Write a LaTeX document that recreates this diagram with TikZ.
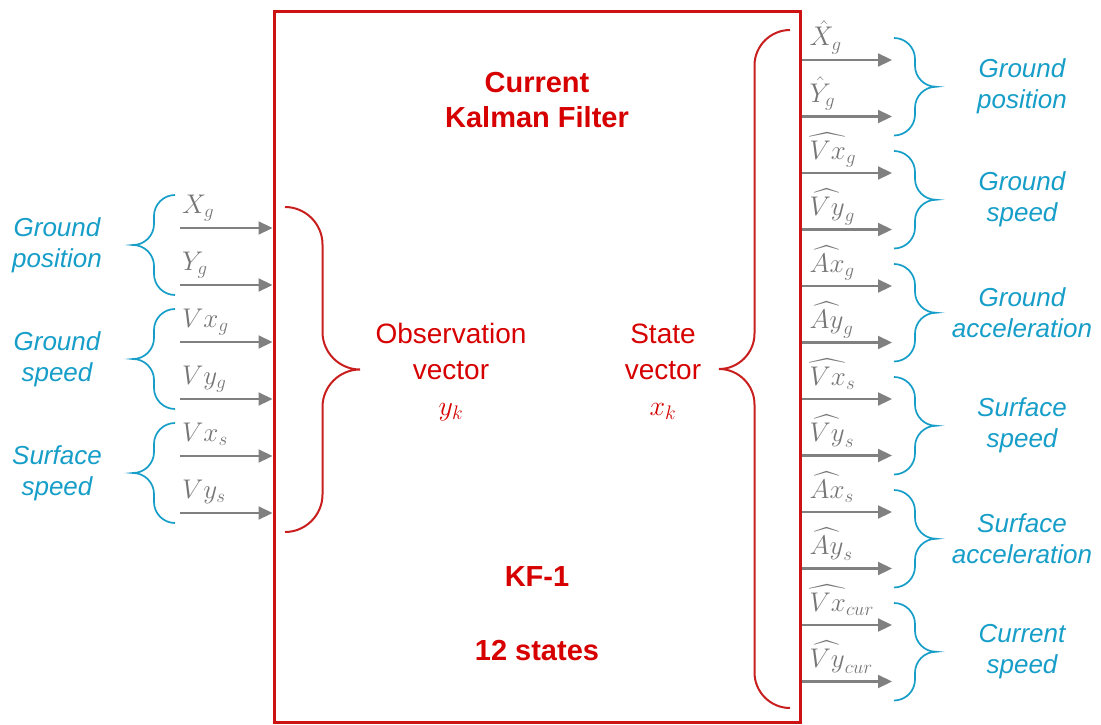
\documentclass[tikz,border=0pt]{standalone}
\usepackage{fix-cm}
\usepackage{amsmath}
\usepackage{fontspec}
\setsansfont{Liberation Sans}
\usetikzlibrary{arrows.meta,positioning}
\definecolor{kfred}{RGB}{204,18,18}
\definecolor{txtred}{RGB}{214,0,0}
\definecolor{brred}{RGB}{200,30,30}
\definecolor{grpcyan}{RGB}{22,158,200}
\definecolor{siggray}{RGB}{128,128,128}
\definecolor{labgray}{RGB}{118,118,118}

\begin{document}
\begin{tikzpicture}[x=1pt, y=-1pt,
  kfbox/.style={draw=kfred, line width=3pt, minimum width=526pt, minimum height=710pt, inner sep=0pt},
  kftitle/.style={font=\sffamily\bfseries\fontsize{29}{35}\selectfont, text=txtred, align=center},
  vecname/.style={font=\sffamily\fontsize{28}{36}\selectfont, text=txtred, align=center},
  grplab/.style={font=\sffamily\itshape\fontsize{26}{31}\selectfont, text=grpcyan, align=center},
  sig/.style={draw=siggray, line width=2.2pt, -{Triangle[length=14pt,width=13pt]}},
  siglab/.style={font=\fontsize{27}{27}\selectfont, text=labgray, inner sep=0pt, anchor=base west},
]
\useasboundingbox (0,0) rectangle (1101,725);
% brace: #1 = x of the ends, #2/#3 = top/bottom y, #4 = signed depth, #5 = colour, #6 = width
\newcommand{\kbrace}[6]{%
  \pgfmathsetmacro\kbmid{(#2+#3)/2}\pgfmathsetmacro\kbr{abs(#4)}%
  \draw[#5, line width=#6] (#1,#2) .. controls ({#1+0.55*(#4)},#2) and ({#1+(#4)},{#2+0.45*\kbr}) .. ({#1+(#4)},{#2+\kbr})
    -- ({#1+(#4)},{\kbmid-\kbr}) .. controls ({#1+(#4)},{\kbmid-0.45*\kbr}) and ({#1+1.45*(#4)},\kbmid) .. ({#1+2*(#4)},\kbmid)
    .. controls ({#1+1.45*(#4)},\kbmid) and ({#1+(#4)},{\kbmid+0.45*\kbr}) .. ({#1+(#4)},{\kbmid+\kbr})
    -- ({#1+(#4)},{#3-\kbr}) .. controls ({#1+(#4)},{#3-0.45*\kbr}) and ({#1+0.55*(#4)},#3) .. (#1,#3);}
% the filter block
\node[kfbox] (kf) at (537,367) {};
\node[kftitle] (title) at (537,100) {Current\\Kalman Filter};
\node[kftitle] (kfid) at (537,577) {KF-1};
\node[kftitle] (nstates) at (537,651) {12 states};
\node[vecname] (obs) at (451,372) {Observation\\vector\\$y_k$};
\node[vecname] (state) at (663,372) {State\\vector\\$x_k$};
\kbrace{285}{207}{532}{37.5}{brred}{2pt}
\kbrace{790}{30}{708}{-35.5}{brred}{2pt}
% measured inputs
\foreach \i/\y/\lab in {1/228/X_g, 2/285/Y_g, 3/342/Vx_g, 4/399/Vy_g, 5/456/Vx_s, 6/513/Vy_s}
  {\coordinate (in\i) at (180,\y);
   \draw[sig] (in\i) -- (in\i -| kf.west);
   \node[siglab, xshift=2pt, yshift=15pt] (inlab\i) at (in\i) {$\lab$};}
\foreach \i/\t/\b/\txt in {1/195/295/Ground\\position, 2/309/409/Ground\\speed, 3/423/523/Surface\\speed}
  {\kbrace{175}{\t}{\b}{-21}{grpcyan}{1.7pt}
   \node[grplab] (gl\i) at (57,{(\t+\b)/2}) {\txt};}
% estimated states
\foreach \i/\lab in {0/\hat{X}_g, 1/\hat{Y}_g, 2/\widehat{Vx}_g, 3/\widehat{Vy}_g, 4/\widehat{Ax}_g, 5/\widehat{Ay}_g,
                     6/\widehat{Vx}_s, 7/\widehat{Vy}_s, 8/\widehat{Ax}_s, 9/\widehat{Ay}_s, 10/\widehat{Vx}_{cur}, 11/\widehat{Vy}_{cur}}
  {\pgfmathsetmacro\y{60+56.5*\i}
   \coordinate (out\i) at (892,\y);
   \coordinate (src\i) at (kf.east |- out\i);
   \draw[sig] (src\i) -- (out\i);
   \node[siglab, xshift=8pt, yshift=14pt] (outlab\i) at (src\i) {$\lab$};}
\foreach \i/\txt in {0/Ground\\position, 1/Ground\\speed, 2/Ground\\acceleration, 3/Surface\\speed, 4/Surface\\acceleration, 5/Current\\speed}
  {\pgfmathsetmacro\t{60+113*\i-22}\pgfmathsetmacro\b{60+113*\i+56.5+19}
   \kbrace{894}{\t}{\b}{21}{grpcyan}{1.7pt}
   \node[grplab] (gr\i) at (1022,{(\t+\b)/2}) {\txt};}
\end{tikzpicture}
\end{document}
